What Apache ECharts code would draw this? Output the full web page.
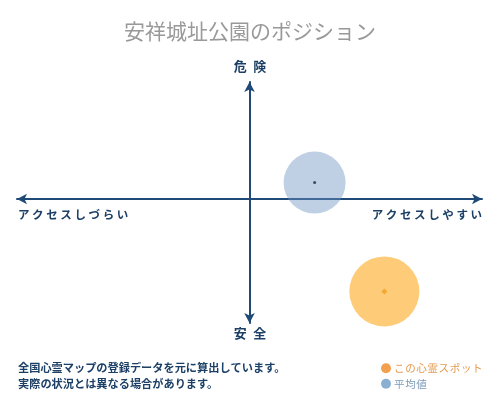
<!DOCTYPE html>
<html>
<head>
<meta charset="utf-8">
<script src="https://cdn.jsdelivr.net/npm/echarts@6/dist/echarts.min.js"></script>
<style>html,body{margin:0;padding:0;background:#fff}#c{width:500px;height:400px}</style>
</head>
<body>
<div id="c"></div>
<script>
const titleText = '安祥城址公園のポジション';
const seriesNames = ['この心霊スポット', '平均値'];
const spotPoint = [58, -79];
const avgPoint = [28, 14];
const axisLabels = { top: '危\u2002険', bottom: '安\u2002全', left: 'ア ク セ ス し づ ら い', right: 'ア ク セ ス し や す い' };
const noteLines = ['全国心霊マップの登録データを元に算出しています。', '実際の状況とは異なる場合があります。'];

const FONT = '"Noto Sans CJK JP", sans-serif';
const NAVY = '#1c3f66';
const chart = echarts.init(document.getElementById('c'));
const axisCommon = {
  type: 'value',
  axisLine: { show: true, onZero: true, symbol: ['arrow', 'arrow'], symbolSize: [8, 10], lineStyle: { color: '#1f4a78', width: 2 } },
  axisTick: { show: false }, axisLabel: { show: false }, splitLine: { show: false }
};
chart.setOption({
  animation: false,
  title: { text: titleText, left: 'center', top: 16, textStyle: { fontFamily: FONT, fontSize: 21, fontWeight: 'normal', color: '#999' } },
  grid: { left: 17, right: 18, top: 82, bottom: 77 },
  xAxis: Object.assign({ min: -100, max: 100 }, axisCommon),
  yAxis: Object.assign({ min: -106, max: 100 }, axisCommon),
  legend: {
    orient: 'vertical', left: 376, top: 358, itemWidth: 10, itemHeight: 10, itemGap: 5,
    icon: 'circle',
    formatter: function (n) { return n.split('').join('\u200A'); },
    textStyle: { fontFamily: FONT, fontSize: 10.5, padding: [0, 0, 0, -2] },
    data: [
      { name: seriesNames[0], itemStyle: { color: '#f2a04e' }, textStyle: { color: '#e39a50' } },
      { name: seriesNames[1], itemStyle: { color: '#6d9cc6' }, textStyle: { color: '#7d9ab8' } }
    ]
  },
  series: [
    { name: seriesNames[0], type: 'scatter', symbolSize: 70, z: 2, itemStyle: { color: '#fecb78', opacity: 1 }, data: [spotPoint] },
    { name: seriesNames[1], type: 'scatter', symbolSize: 62, z: 2, itemStyle: { color: 'rgba(110,148,193,0.55)' }, data: [avgPoint] },
    { name: 'spot-center', type: 'scatter', symbol: 'diamond', symbolSize: 6, z: 3, itemStyle: { color: '#f0a020' }, data: [spotPoint] },
    { name: 'avg-center', type: 'scatter', symbolSize: 3, z: 3, itemStyle: { color: '#1a2a3a' }, data: [avgPoint] }
  ],
  graphic: [
    { type: 'text', left: 'center', top: 60, style: { text: axisLabels.top, fontFamily: FONT, fontSize: 13, fontWeight: 'bold', fill: NAVY } },
    { type: 'text', left: 'center', top: 327, style: { text: axisLabels.bottom, fontFamily: FONT, fontSize: 13, fontWeight: 'bold', fill: NAVY } },
    { type: 'text', left: 18, top: 209, style: { text: axisLabels.left, fontFamily: FONT, fontSize: 11.5, fontWeight: 'bold', fill: NAVY } },
    { type: 'text', right: 18, top: 209, style: { text: axisLabels.right, fontFamily: FONT, fontSize: 11.5, fontWeight: 'bold', fill: NAVY } },
    { type: 'text', left: 18, top: 362, style: { text: noteLines[0], fontFamily: FONT, fontSize: 11.2, fontWeight: 'bold', fill: NAVY } },
    { type: 'text', left: 18, top: 378, style: { text: noteLines[1], fontFamily: FONT, fontSize: 11.2, fontWeight: 'bold', fill: NAVY } }
  ]
});
</script>
</body>
</html>
